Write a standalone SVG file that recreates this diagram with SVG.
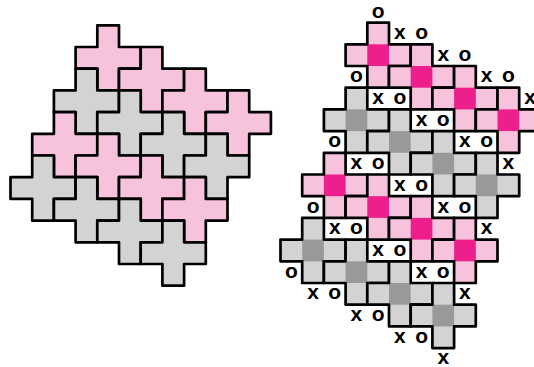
<svg xmlns="http://www.w3.org/2000/svg" xmlns:xlink="http://www.w3.org/1999/xlink" width="534" height="367" viewBox="0 0 534 367">
<style>
.outline{stroke:#000;stroke-width:2.7;stroke-linejoin:round}
.nf{fill:none}
.pink{fill:#f7c2dc}
.gray{fill:#d3d3d3}
.hot{fill:#ec1f8c}
.dark{fill:#999999}
.m{font-family:"Liberation Sans",Arial,sans-serif;font-weight:bold;font-size:21px;text-anchor:middle;fill:#000}
</style>
<defs>
<path id="plus" d="M0,-21.7H21.7V0H43.4V21.7H21.7V43.4H0V21.7H-21.7V0H0Z"/>
</defs>
<rect width="534" height="367" fill="#fff"/>
<g id="left-tiling">
<g id="L00"><use href="#plus" x="97.3" y="47" class="pink outline"/></g>
<g id="L01"><use href="#plus" x="140.7" y="68.7" class="pink outline"/></g>
<g id="L02"><use href="#plus" x="184.1" y="90.4" class="pink outline"/></g>
<g id="L03"><use href="#plus" x="227.5" y="112.1" class="pink outline"/></g>
<g id="L10"><use href="#plus" x="75.6" y="90.4" class="gray outline"/></g>
<g id="L11"><use href="#plus" x="119" y="112.1" class="gray outline"/></g>
<g id="L12"><use href="#plus" x="162.4" y="133.8" class="gray outline"/></g>
<g id="L13"><use href="#plus" x="205.8" y="155.5" class="gray outline"/></g>
<g id="L20"><use href="#plus" x="53.9" y="133.8" class="pink outline"/></g>
<g id="L21"><use href="#plus" x="97.3" y="155.5" class="pink outline"/></g>
<g id="L22"><use href="#plus" x="140.7" y="177.2" class="pink outline"/></g>
<g id="L23"><use href="#plus" x="184.1" y="198.9" class="pink outline"/></g>
<g id="L30"><use href="#plus" x="32.2" y="177.2" class="gray outline"/></g>
<g id="L31"><use href="#plus" x="75.6" y="198.9" class="gray outline"/></g>
<g id="L32"><use href="#plus" x="119" y="220.6" class="gray outline"/></g>
<g id="L33"><use href="#plus" x="162.4" y="242.3" class="gray outline"/></g>
</g>
<g id="right-tiling">
<g id="R00"><use href="#plus" x="367.3" y="44.3" class="pink"/><rect x="367.3" y="44.3" width="21.7" height="21.7" class="hot"/><use href="#plus" x="367.3" y="44.3" class="nf outline"/></g>
<g id="R01"><use href="#plus" x="410.7" y="66" class="pink"/><rect x="410.7" y="66" width="21.7" height="21.7" class="hot"/><use href="#plus" x="410.7" y="66" class="nf outline"/></g>
<g id="R02"><use href="#plus" x="454.1" y="87.7" class="pink"/><rect x="454.1" y="87.7" width="21.7" height="21.7" class="hot"/><use href="#plus" x="454.1" y="87.7" class="nf outline"/></g>
<g id="R03"><use href="#plus" x="497.5" y="109.4" class="pink"/><rect x="497.5" y="109.4" width="21.7" height="21.7" class="hot"/><use href="#plus" x="497.5" y="109.4" class="nf outline"/></g>
<g id="R10"><use href="#plus" x="345.6" y="109.4" class="gray"/><rect x="345.6" y="109.4" width="21.7" height="21.7" class="dark"/><use href="#plus" x="345.6" y="109.4" class="nf outline"/></g>
<g id="R11"><use href="#plus" x="389" y="131.1" class="gray"/><rect x="389" y="131.1" width="21.7" height="21.7" class="dark"/><use href="#plus" x="389" y="131.1" class="nf outline"/></g>
<g id="R12"><use href="#plus" x="432.4" y="152.8" class="gray"/><rect x="432.4" y="152.8" width="21.7" height="21.7" class="dark"/><use href="#plus" x="432.4" y="152.8" class="nf outline"/></g>
<g id="R13"><use href="#plus" x="475.8" y="174.5" class="gray"/><rect x="475.8" y="174.5" width="21.7" height="21.7" class="dark"/><use href="#plus" x="475.8" y="174.5" class="nf outline"/></g>
<g id="R20"><use href="#plus" x="323.9" y="174.5" class="pink"/><rect x="323.9" y="174.5" width="21.7" height="21.7" class="hot"/><use href="#plus" x="323.9" y="174.5" class="nf outline"/></g>
<g id="R21"><use href="#plus" x="367.3" y="196.2" class="pink"/><rect x="367.3" y="196.2" width="21.7" height="21.7" class="hot"/><use href="#plus" x="367.3" y="196.2" class="nf outline"/></g>
<g id="R22"><use href="#plus" x="410.7" y="217.9" class="pink"/><rect x="410.7" y="217.9" width="21.7" height="21.7" class="hot"/><use href="#plus" x="410.7" y="217.9" class="nf outline"/></g>
<g id="R23"><use href="#plus" x="454.1" y="239.6" class="pink"/><rect x="454.1" y="239.6" width="21.7" height="21.7" class="hot"/><use href="#plus" x="454.1" y="239.6" class="nf outline"/></g>
<g id="R30"><use href="#plus" x="302.2" y="239.6" class="gray"/><rect x="302.2" y="239.6" width="21.7" height="21.7" class="dark"/><use href="#plus" x="302.2" y="239.6" class="nf outline"/></g>
<g id="R31"><use href="#plus" x="345.6" y="261.3" class="gray"/><rect x="345.6" y="261.3" width="21.7" height="21.7" class="dark"/><use href="#plus" x="345.6" y="261.3" class="nf outline"/></g>
<g id="R32"><use href="#plus" x="389" y="283" class="gray"/><rect x="389" y="283" width="21.7" height="21.7" class="dark"/><use href="#plus" x="389" y="283" class="nf outline"/></g>
<g id="R33"><use href="#plus" x="432.4" y="304.7" class="gray"/><rect x="432.4" y="304.7" width="21.7" height="21.7" class="dark"/><use href="#plus" x="432.4" y="304.7" class="nf outline"/></g>
</g>
<g id="marks" class="m">
<text x="378.15" y="18">o</text>
<text x="399.85" y="38.9">x</text><text x="421.55" y="38.9">o</text>
<text x="443.25" y="60.6">x</text><text x="464.95" y="60.6">o</text>
<text x="486.65" y="82.3">x</text><text x="508.35" y="82.3">o</text>
<text x="530.05" y="104">x</text>
<text x="356.45" y="82.3">o</text>
<text x="378.15" y="104">x</text><text x="399.85" y="104">o</text>
<text x="421.55" y="125.7">x</text><text x="443.25" y="125.7">o</text>
<text x="464.95" y="147.4">x</text><text x="486.65" y="147.4">o</text>
<text x="508.35" y="169.1">x</text>
<text x="334.75" y="147.4">o</text>
<text x="356.45" y="169.1">x</text><text x="378.15" y="169.1">o</text>
<text x="399.85" y="190.8">x</text><text x="421.55" y="190.8">o</text>
<text x="443.25" y="212.5">x</text><text x="464.95" y="212.5">o</text>
<text x="486.65" y="234.2">x</text>
<text x="313.05" y="212.5">o</text>
<text x="334.75" y="234.2">x</text><text x="356.45" y="234.2">o</text>
<text x="378.15" y="255.9">x</text><text x="399.85" y="255.9">o</text>
<text x="421.55" y="277.6">x</text><text x="443.25" y="277.6">o</text>
<text x="464.95" y="299.3">x</text>
<text x="291.35" y="277.6">o</text>
<text x="313.05" y="299.3">x</text><text x="334.75" y="299.3">o</text>
<text x="356.45" y="321">x</text><text x="378.15" y="321">o</text>
<text x="399.85" y="342.7">x</text><text x="421.55" y="342.7">o</text>
<text x="443.25" y="364.4">x</text>
</g>
</svg>
